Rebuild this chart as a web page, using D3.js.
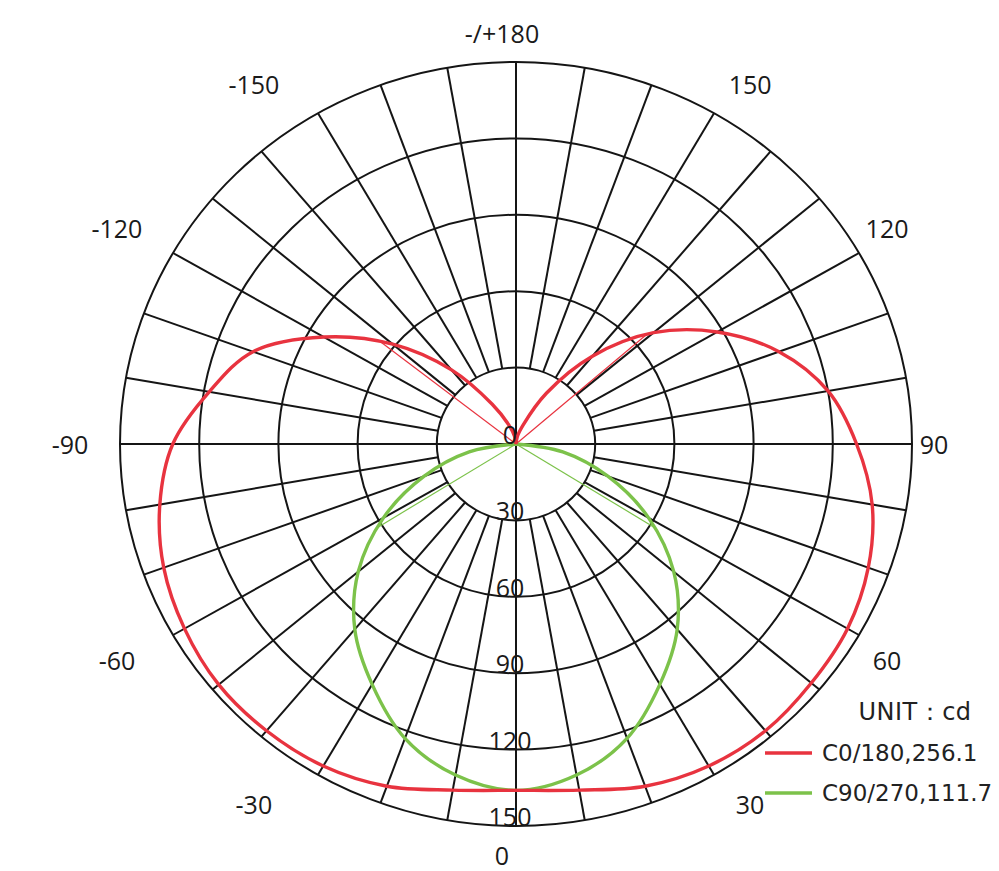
<!DOCTYPE html>
<html>
<head>
    <script type="text/javascript" src="https://cdn.jsdelivr.net/npm/d3@7"></script>
    <style>
    body {
        padding: 0;
        margin: 0;
        background: #fff;
    }
    </style>
</head>
<body>
    <div id="viz"></div>
    <script type="text/javascript">

    // gamma angles (0 = straight down, positive to the right)
    var angles = [-180, -170, -160, -150, -140, -130, -120, -110, -100, -90,
                  -80, -70, -60, -50, -40, -30, -20, -10, 0,
                  10, 20, 30, 40, 50, 60, 70, 80, 90,
                  100, 110, 120, 130, 140, 150, 160, 170, 180];

    // C0/180 plane
    var redValues = [0, 3, 8, 18, 38, 61, 84, 106, 118, 130,
                     137, 142, 145, 147, 147, 146, 143, 138, 136,
                     138, 143, 146, 147, 146, 145, 142, 137, 129,
                     120, 106, 88, 68, 45, 23, 8, 3, 0];

    // C90/270 plane
    var greenValues = [0, 0, 0, 0, 0, 0, 0, 0, 0, 0,
                       18, 37, 58, 78, 95, 109, 123, 132, 136,
                       132, 123, 109, 95, 78, 58, 37, 18, 0,
                       0, 0, 0, 0, 0, 0, 0, 0, 0];

    // half-intensity lines
    var redBeamAngles = [-128, 131];
    var redBeamValues = [65, 66];
    var greenBeamAngles = [-58, 58];
    var greenBeamValues = [62, 62];

    var ringValues = [30, 60, 90, 120, 150];
    var radialLabels = ['0', '30', '60', '90', '120', '150'];
    var radialLabelValues = [0, 30, 60, 90, 120, 150];

    var angleTicks = [-150, -120, -90, -60, -30, 0, 30, 60, 90, 120, 150, 180];
    var angleTickLabels = ['-150', '-120', '-90', '-60', '-30', '0', '30', '60', '90', '120', '150', '-/+180'];

    var spokeAngles = [-170, -160, -150, -140, -130, -120, -110, -100,
                       -80, -70, -60, -50, -40, -30, -20, -10,
                       10, 20, 30, 40, 50, 60, 70, 80,
                       100, 110, 120, 130, 140, 150, 160, 170];
    var axisAngles = [0, 90, 180, -90];

    var legendNames = ['C0/180,256.1', 'C90/270,111.7'];
    var legendColors = ['#e8333f', '#7cc24a'];
    var unitText = 'UNIT\uFF1Acd';

    var W = 999, H = 871;
    var cx = 516, cy = 444;
    var maxV = 150;

    // the picture is a little wider than tall
    var rx = d3.scaleLinear().domain([0, maxV]).range([0, 396]);
    var ry = d3.scaleLinear().domain([0, maxV]).range([0, 382]);

    function rad(a) { return a * Math.PI / 180; }
    function px(a, v) { return cx + rx(v) * Math.sin(rad(a)); }
    function py(a, v) { return cy + ry(v) * Math.cos(rad(a)); }

    // labels sit on a squarish ring round the plot
    function sq(t, p) { return (t < 0 ? -1 : 1) * Math.pow(Math.abs(t), p); }
    function lx(a) { return 502 + (rx(maxV) + 36) * sq(Math.sin(rad(a)), 0.8); }
    function ly(a) { return cy + (ry(maxV) + 29) * sq(Math.cos(rad(a)), 0.93); }

    var svg = d3.select('#viz')
      .append('svg')
      .attr('width', W)
      .attr('height', H)
      .style('display', 'block');

    var gridColor = '#151515';
    var grid = svg.append('g')
      .attr('fill', 'none')
      .attr('stroke', gridColor)
      .attr('stroke-width', 2);

    grid.selectAll('ellipse').data(ringValues).enter().append('ellipse')
      .attr('cx', cx)
      .attr('cy', cy)
      .attr('rx', function(d) { return rx(d); })
      .attr('ry', function(d) { return ry(d); });

    grid.selectAll('line.spoke').data(spokeAngles).enter().append('line')
      .attr('class', 'spoke')
      .attr('x1', function(a) { return px(a, ringValues[0]); })
      .attr('y1', function(a) { return py(a, ringValues[0]); })
      .attr('x2', function(a) { return px(a, maxV); })
      .attr('y2', function(a) { return py(a, maxV); });

    grid.selectAll('line.axis').data(axisAngles).enter().append('line')
      .attr('class', 'axis')
      .attr('x1', function(a) { return px(a, 0); })
      .attr('y1', function(a) { return py(a, 0); })
      .attr('x2', function(a) { return px(a, maxV); })
      .attr('y2', function(a) { return py(a, maxV); });

    // thin half-intensity lines
    function beams(ang, vals, color) {
      svg.append('g').selectAll('line').data(ang).enter().append('line')
        .attr('x1', cx)
        .attr('y1', cy)
        .attr('x2', function(a, i) { return px(a, vals[i]); })
        .attr('y2', function(a, i) { return py(a, vals[i]); })
        .attr('stroke', color)
        .attr('stroke-width', 1.2);
    }
    beams(redBeamAngles, redBeamValues, legendColors[0]);
    beams(greenBeamAngles, greenBeamValues, legendColors[1]);

    function curve(vals, color) {
      var line = d3.line()
        .x(function(d, i) { return px(angles[i], d); })
        .y(function(d, i) { return py(angles[i], d); })
        .curve(d3.curveCatmullRom);
      svg.append('path')
        .datum(vals)
        .attr('d', line)
        .attr('fill', 'none')
        .attr('stroke', color)
        .attr('stroke-width', 3.4)
        .attr('stroke-linejoin', 'round');
    }
    curve(greenValues, legendColors[1]);
    curve(redValues, legendColors[0]);

    var font = "'Open Sans', 'Liberation Sans', sans-serif";

    // radial value labels down the 0 axis
    svg.append('g').selectAll('text').data(radialLabels).enter().append('text')
      .attr('x', cx - 6)
      .attr('y', function(d, i) { return py(0, radialLabelValues[i]) - 10; })
      .attr('text-anchor', 'middle')
      .attr('dominant-baseline', 'central')
      .attr('font-family', font)
      .attr('font-size', 25)
      .attr('fill', '#1a1a1a')
      .text(function(d) { return d; });

    // angle labels round the outside
    svg.append('g').selectAll('text').data(angleTicks).enter().append('text')
      .attr('x', lx)
      .attr('y', ly)
      .attr('text-anchor', 'middle')
      .attr('dominant-baseline', 'central')
      .attr('font-family', font)
      .attr('font-size', 25)
      .attr('fill', '#1a1a1a')
      .text(function(d, i) { return angleTickLabels[i]; });

    // legend
    var legendFont = "'DejaVu Sans', sans-serif";
    var lg = svg.append('g');
    lg.append('text')
      .attr('x', 915)
      .attr('y', 712)
      .attr('text-anchor', 'middle')
      .attr('dominant-baseline', 'central')
      .attr('font-family', legendFont)
      .attr('font-size', 24)
      .attr('letter-spacing', 0.5)
      .attr('fill', '#222')
      .text(unitText);

    var rows = lg.selectAll('g.row').data(legendNames).enter().append('g')
      .attr('class', 'row')
      .attr('transform', function(d, i) { return 'translate(0,' + (753 + i * 40) + ')'; });
    rows.append('line')
      .attr('x1', 765)
      .attr('x2', 812)
      .attr('stroke', function(d, i) { return legendColors[i]; })
      .attr('stroke-width', 3.4);
    rows.append('text')
      .attr('x', 822)
      .attr('dominant-baseline', 'central')
      .attr('font-family', legendFont)
      .attr('font-size', 23)
      .attr('fill', '#222')
      .text(function(d) { return d; });
    </script>
</body>
</html>
